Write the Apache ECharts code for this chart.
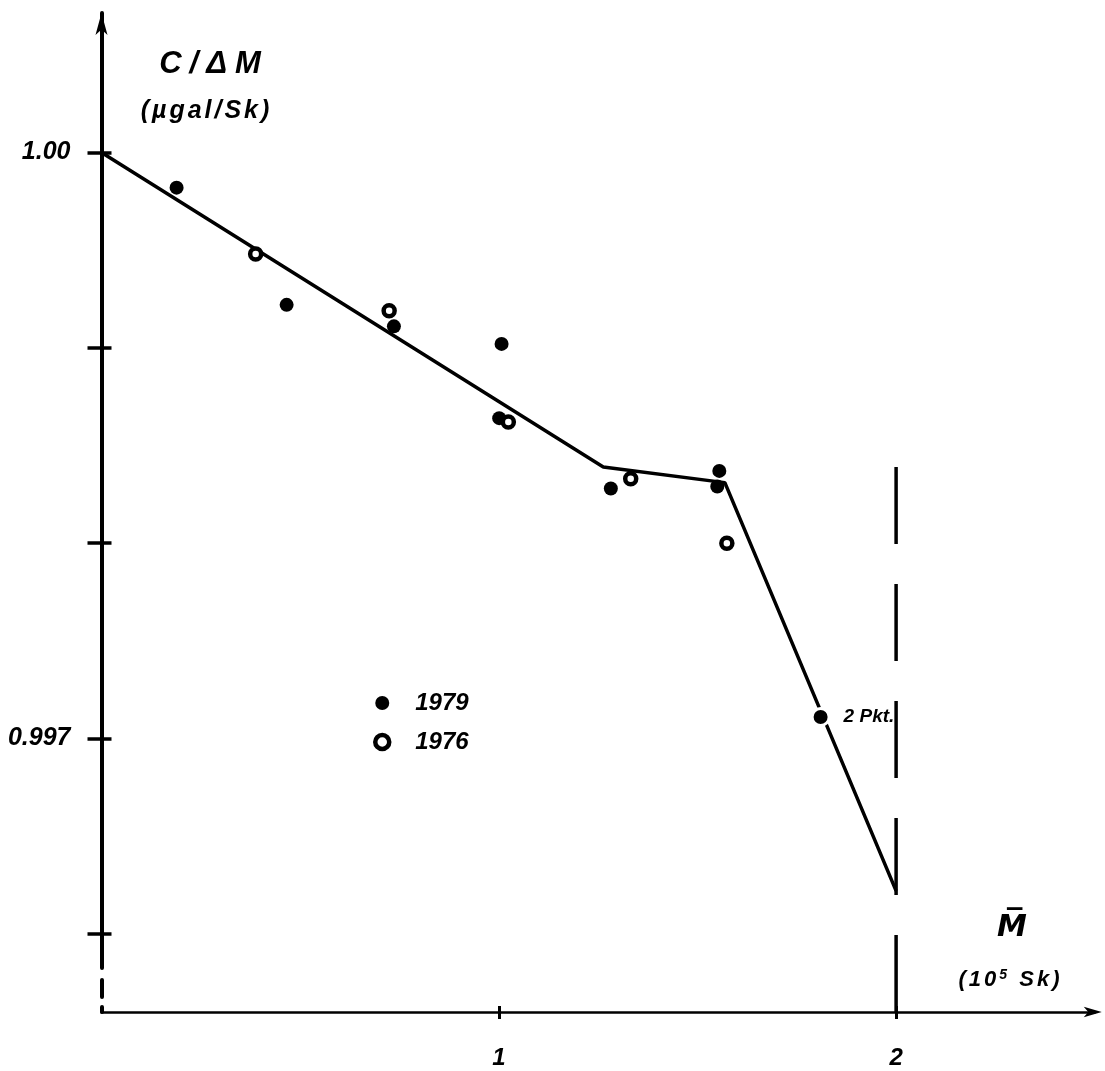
<!DOCTYPE html>
<html>
<head>
<meta charset="utf-8">
<script src="https://cdn.jsdelivr.net/npm/echarts@6/dist/echarts.min.js"></script>
<style>
  html, body { margin: 0; padding: 0; background: #fff; }
  #chart { width: 1105px; height: 1071px; }
</style>
</head>
<body>
<div id="chart"></div>
<script>
// Mean mass M (10^5 Sk) and C/ΔM (µgal/Sk), 1979 campaign
const m1979 = [0.189, 0.466, 0.736, 1.007, 1.001, 1.282, 1.555, 1.550, 1.810];
const c1979 = [0.99982, 0.99922, 0.99911, 0.99902, 0.99864, 0.99828, 0.99837, 0.99829, 0.99711];
// 1976 campaign
const m1976 = [0.388, 0.724, 1.024, 1.332, 1.574];
const c1976 = [0.99948, 0.99919, 0.99862, 0.99833, 0.99800];
// Break points of the fitted curve
const fitM = [0, 1.263, 1.569, 2.0];
const fitC = [1.000, 0.99839, 0.99831, 0.99622];
// Boundary at M = 2 (dashed), drawn from its upper end down to the axis
const boundaryM = 2;
const boundaryTopC = 0.99839;
// The 1979 point that stands for two readings
const noteIndex = 8;
const noteText = '2 Pkt.';
// Tick marks and labels
const xTickValues = [1, 2];
const xTickTexts = ['1', '2'];
const yTickValues = [1.000, 0.999, 0.998, 0.997, 0.996];
const yLabelValues = [1.000, 0.997];
const yLabelTexts = ['1.00', '0.997'];

const X_MIN = 0, X_MAX = 2.5;
const Y_MIN = 0.9956, Y_MAX = 1.000714;
const GRID = { left: 101.5, top: 13, width: 993.25, height: 999 };
const FONT = 'Liberation Sans';
const INK = '#000';

function labelFor(values, texts, v) {
  for (let i = 0; i < values.length; i++) {
    if (Math.abs(values[i] - v) < 1e-9) return texts[i];
  }
  return '';
}

// Spread lettering: one rich-text token per character
function spaced(str, style) {
  return Array.from(str).map(ch => '{' + style + '|' + ch + '}').join('');
}

const pts1979 = m1979.map((m, i) => {
  if (i !== noteIndex) return [m, c1979[i]];
  return {
    value: [m, c1979[i]],
    symbolSize: 17,
    itemStyle: { borderColor: '#fff', borderWidth: 3, opacity: 1 },
    label: {
      show: true, formatter: noteText, position: 'right', distance: 13,
      color: INK, opacity: 1, fontFamily: FONT, fontStyle: 'italic', fontWeight: 'bold', fontSize: 19
    }
  };
});
const pts1976 = m1976.map((m, i) => [m, c1976[i]]);
const fitLine = fitM.map((m, i) => [m, fitC[i]]);
const boundaryLine = [[boundaryM, boundaryTopC], [boundaryM, Y_MIN]];

const chart = echarts.init(document.getElementById('chart'), null, { renderer: 'canvas' });

const tickOnly = { show: false };

chart.setOption({
  backgroundColor: '#fff',
  animation: false,
  grid: [
    Object.assign({ outerBoundsMode: 'none' }, GRID),
    // overlay grid that carries the inner half of the crossing ticks
    Object.assign({ outerBoundsMode: 'none' }, GRID)
  ],
  xAxis: [
    {
      type: 'value', gridIndex: 0, min: X_MIN, max: X_MAX, position: 'bottom',
      splitLine: { show: false },
      axisLine: {
        show: true, onZero: false,
        symbol: ['none', 'arrow'], symbolSize: [8, 18], symbolOffset: [0, 7],
        lineStyle: { color: INK, width: 2.5 }
      },
      axisTick: { show: true, customValues: xTickValues, length: 7, lineStyle: { color: INK, width: 3 } },
      axisLabel: {
        show: true, customValues: xTickValues, margin: 34,
        formatter: v => labelFor(xTickValues, xTickTexts, v),
        color: INK, fontFamily: FONT, fontStyle: 'italic', fontWeight: 'bold', fontSize: 24
      }
    },
    {
      type: 'value', gridIndex: 1, min: X_MIN, max: X_MAX, position: 'bottom',
      splitLine: { show: false }, axisLine: { show: false, onZero: false }, axisLabel: tickOnly,
      axisTick: { show: true, inside: true, customValues: xTickValues, length: 6, lineStyle: { color: INK, width: 3 } }
    }
  ],
  yAxis: [
    {
      type: 'value', gridIndex: 0, min: Y_MIN, max: Y_MAX, position: 'left',
      splitLine: { show: false },
      axisLine: {
        show: true, onZero: false,
        symbol: ['none', 'arrow'], symbolSize: [9, 22],
        lineStyle: { color: INK, width: 4, type: [5, 10, 17, 12, 2000] }
      },
      axisTick: { show: true, customValues: yTickValues, length: 14, lineStyle: { color: INK, width: 3.5 } },
      axisLabel: {
        show: true, customValues: yLabelValues, margin: 31,
        formatter: v => labelFor(yLabelValues, yLabelTexts, v),
        color: INK, fontFamily: FONT, fontStyle: 'italic', fontWeight: 'bold', fontSize: 25
      }
    },
    {
      type: 'value', gridIndex: 1, min: Y_MIN, max: Y_MAX, position: 'left',
      splitLine: { show: false }, axisLine: { show: false, onZero: false }, axisLabel: tickOnly,
      axisTick: { show: true, inside: true, customValues: yTickValues, length: 10, lineStyle: { color: INK, width: 3.5 } }
    }
  ],
  legend: {
    orient: 'vertical', left: 368, top: 685,
    itemWidth: 14, itemHeight: 14, itemGap: 13,
    data: [
      { name: '1979', itemStyle: { color: INK, opacity: 1 } },
      { name: '1976', itemStyle: { color: '#fff', borderColor: INK, borderWidth: 4.5, opacity: 1 } }
    ],
    textStyle: {
      color: INK, fontFamily: FONT, fontStyle: 'italic', fontWeight: 'bold', fontSize: 24,
      lineHeight: 26, padding: [0, 0, 0, 21]
    }
  },
  series: [
    {
      name: 'fit', type: 'line', data: fitLine, showSymbol: false, symbol: 'none',
      lineStyle: { color: INK, width: 3.5 }, z: 1
    },
    {
      name: 'boundary', type: 'line', data: boundaryLine, showSymbol: false, symbol: 'none',
      lineStyle: { color: INK, width: 3.5, type: [77, 40] }, z: 1
    },
    {
      name: '1979', type: 'scatter', data: pts1979, symbol: 'circle', symbolSize: 14,
      itemStyle: { color: INK, opacity: 1 }, z: 3
    },
    {
      name: '1976', type: 'scatter', data: pts1976, symbol: 'circle', symbolSize: 11,
      itemStyle: { color: '#fff', borderColor: INK, borderWidth: 4.5, opacity: 1 }, z: 3
    }
  ],
  graphic: [
    {
      type: 'text', x: 210, y: 64,
      style: {
        text: spaced('C/ΔM', 't'), align: 'center', verticalAlign: 'middle',
        rich: { t: { fontFamily: FONT, fontStyle: 'italic', fontWeight: 'bold', fontSize: 31, fill: INK, padding: [0, 4, 0, 4] } }
      }
    },
    {
      type: 'text', x: 205, y: 111,
      style: {
        text: spaced('(µgal/Sk)', 'u'), align: 'center', verticalAlign: 'middle',
        rich: { u: { fontFamily: FONT, fontStyle: 'italic', fontWeight: 'bold', fontSize: 25, fill: INK, padding: [0, 1.5, 0, 1.5] } }
      }
    },
    {
      type: 'text', x: 1012, y: 928,
      style: {
        text: 'M\u0305', fill: INK, align: 'center', verticalAlign: 'middle',
        fontFamily: 'DejaVu Sans', fontStyle: 'italic', fontWeight: 'bold', fontSize: 30
      }
    },
    {
      type: 'text', x: 1009, y: 980,
      style: {
        text: spaced('(10', 'a') + '{s|5}' + spaced(' Sk)', 'a'), align: 'center', verticalAlign: 'middle',
        rich: {
          a: { fontFamily: FONT, fontStyle: 'italic', fontWeight: 'bold', fontSize: 22, fill: INK, padding: [0, 1.5, 0, 1.5] },
          s: { fontFamily: FONT, fontStyle: 'italic', fontWeight: 'bold', fontSize: 14, fill: INK, padding: [0, 1.5, 10, 1.5] }
        }
      }
    }
  ]
});
</script>
</body>
</html>
